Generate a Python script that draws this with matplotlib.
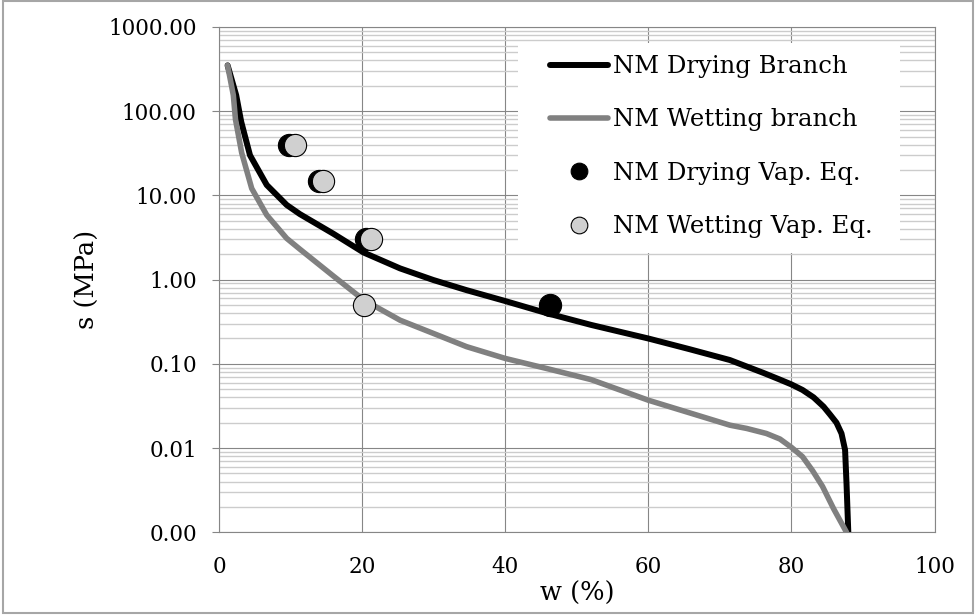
import matplotlib
matplotlib.use("Agg")
import matplotlib.pyplot as plt
from matplotlib.patches import Rectangle

plt.rcParams['font.family'] = ['DejaVu Serif']

# NM drying branch (w %, s MPa)
dry_w = [1.2, 2.4, 3.1, 4.33, 6.67, 9.46, 11.3, 16.0, 20.2, 25.3, 29.95,
         34.6, 40.0, 45.8, 52.0, 60.0, 65.8, 71.4, 76.1, 78.2, 80.0, 81.55,
         83.1, 84.5, 85.4, 86.3, 87.0, 87.5, 87.7, 87.95]
dry_s = [350, 155, 75, 30, 13.3, 7.7, 6.0, 3.5, 2.1, 1.36, 0.99,
         0.75, 0.557, 0.40, 0.29, 0.20, 0.149, 0.111, 0.078, 0.066, 0.057, 0.049,
         0.040, 0.031, 0.025, 0.020, 0.0149, 0.0095, 0.0038, 0.001]

# NM wetting branch
wet_w = [1.2, 2.0, 2.3, 3.17, 4.57, 6.67, 9.46, 11.3, 16.0, 20.2, 25.3, 29.95,
         34.6, 40.0, 45.8, 52.0, 60.0, 71.4, 73.75, 76.5, 78.4, 80.0, 81.55,
         82.95, 84.35, 85.9, 87.7]
wet_s = [350, 155, 80, 32, 12.1, 5.85, 3.09, 2.3, 1.1, 0.575, 0.33, 0.23,
         0.16, 0.116, 0.088, 0.065, 0.037, 0.0187, 0.0171, 0.0149, 0.0128, 0.0102, 0.0079,
         0.0054, 0.0035, 0.0019, 0.001]

# vapour equilibrium points
dry_pts_w = [9.8, 14.0, 20.5, 46.2]
dry_pts_s = [40, 15, 3, 0.5]
wet_pts_w = [10.6, 14.6, 21.2, 20.2]
wet_pts_s = [40, 15, 3, 0.5]

y_ticks = [0.001, 0.01, 0.1, 1, 10, 100, 1000]
y_minor = [m * 10.0 ** e for e in range(-3, 3) for m in range(2, 10)]

GRID = "#868686"
MINOR = "#cccccc"

fig = plt.figure(figsize=(9.76, 6.16), dpi=100)
ax = fig.add_axes([0.2244, 0.1359, 0.7331, 0.8203])

ax.plot(dry_w, dry_s, color="black", lw=4.3, solid_capstyle="round",
        solid_joinstyle="round", label="NM Drying Branch", zorder=3)
ax.plot(wet_w, wet_s, color="#808080", lw=4.0, solid_capstyle="round",
        solid_joinstyle="round", label="NM Wetting branch", zorder=3)
ax.plot(dry_pts_w, dry_pts_s, "o", ms=16, mfc="black", mec="black", mew=0.8,
        label="NM Drying Vap. Eq.", zorder=4)
ax.plot(wet_pts_w, wet_pts_s, "o", ms=16, mfc="#d0d0d0", mec="black", mew=0.8,
        label="NM Wetting Vap. Eq.", zorder=5)

ax.set_yscale("log")
ax.set_xlim(0, 100)
ax.set_ylim(0.001, 1000)
ax.set_xticks([0, 20, 40, 60, 80, 100])
ax.set_yticks(y_ticks, [f"{v:.2f}" for v in y_ticks])
ax.set_yticks(y_minor, minor=True)
ax.set_yticklabels([], minor=True)

ax.grid(True, which="major", axis="both", color=GRID, lw=0.8, zorder=1)
ax.grid(True, which="minor", axis="y", color=MINOR, lw=1.0, zorder=0)
ax.set_axisbelow(True)

for sp in ax.spines.values():
    sp.set_color(GRID)
    sp.set_linewidth(0.8)

ax.tick_params(axis="y", which="major", length=5, color=GRID, labelsize=15.5, pad=11)
ax.tick_params(axis="y", which="minor", length=0)
ax.tick_params(axis="x", length=0, labelsize=15.5, pad=17)

ax.set_ylabel("s (MPa)", fontsize=18.5)
ax.set_xlabel("w (%)", fontsize=18.5)
ax.yaxis.set_label_coords(-0.166, 0.5)
ax.xaxis.set_label_coords(0.5, -0.096)

# white box behind the legend, like Excel
ax.add_patch(Rectangle((0.418, 0.553), 0.534, 0.415, transform=ax.transAxes,
                       facecolor="white", edgecolor="none", zorder=2))
ax.legend(loc="upper left", bbox_to_anchor=(0.4626, 0.9445), frameon=False,
          borderpad=0, borderaxespad=0, fontsize=17.5, handlelength=2.4,
          handletextpad=0.2, labelspacing=1.25, markerscale=0.75)

# outer chart frame
fig.add_artist(Rectangle((0.0026, 0.0049), 0.9943, 0.9927, transform=fig.transFigure,
                         fill=False, edgecolor="#a6a6a6", lw=1.5))

fig.savefig("out.png", dpi=100)
